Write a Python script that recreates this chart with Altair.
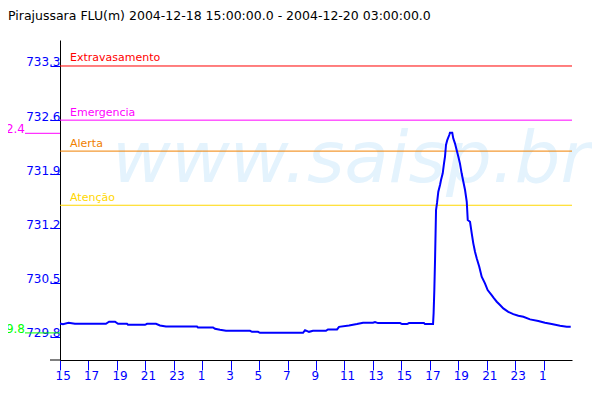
import altair as alt
import pandas as pd

title_text = "Pirajussara FLU(m) 2004-12-18 15:00:00.0 - 2004-12-20 03:00:00.0"
watermark_text = "www.saisp.br"
start_hour = 15  # 2004-12-18 15:00

# hours since 2004-12-18 15:00
hours = [0, 0.21, 0.60, 1.05, 3.23, 3.45, 3.87, 4.08, 4.71, 4.78,
         5.98, 6.12, 6.75, 7.03, 7.45, 9.63, 9.70, 10.76, 10.90, 11.25,
         11.67, 13.36, 13.50, 13.92, 14.06, 17.09, 17.23, 17.51, 17.79, 18.70,
         18.84, 19.48, 19.62, 20.32, 20.88, 21.31, 22.01, 22.15, 22.36, 23.91,
         24.05, 24.40, 24.54, 25.59, 25.66, 26.23, 26.27, 26.32, 26.37, 26.44,
         26.51, 26.60, 26.72, 26.79, 26.91, 27.00, 27.07, 27.14, 27.23, 27.37,
         27.42, 27.58, 27.65, 27.77, 27.89, 28.01, 28.12, 28.24, 28.36, 28.48,
         28.60, 28.67, 28.83, 28.95, 29.06, 29.18, 29.30, 29.48, 29.65, 29.88,
         30.07, 30.35, 30.52, 30.71, 30.94, 31.17, 31.52, 31.87, 32.23, 32.58,
         33.05, 33.63, 34.10, 34.57, 35.16, 35.63, 35.91]
levels = [729.973, 729.964, 729.981, 729.968, 729.968, 729.994, 729.994, 729.968, 729.968, 729.955,
          729.955, 729.968, 729.968, 729.947, 729.934, 729.934, 729.921, 729.921, 729.903, 729.890,
          729.877, 729.877, 729.864, 729.864, 729.851, 729.851, 729.886, 729.864, 729.877, 729.877,
          729.895, 729.895, 729.929, 729.947, 729.964, 729.981, 729.981, 729.990, 729.977, 729.977,
          729.964, 729.964, 729.977, 729.977, 729.964, 729.964, 730.106, 730.404, 730.792, 731.438,
          731.530, 731.675, 731.761, 731.826, 731.913, 732.042, 732.127, 732.279, 732.343, 732.408,
          732.438, 732.438, 732.365, 732.300, 732.214, 732.127, 732.042, 731.913, 731.804, 731.697,
          731.545, 731.309, 731.287, 731.137, 731.008, 730.899, 730.814, 730.705, 730.576, 730.490,
          730.404, 730.339, 730.297, 730.253, 730.210, 730.167, 730.123, 730.093, 730.071, 730.058,
          730.025, 730.003, 729.981, 729.964, 729.942, 729.929, 729.929]
assert len(hours) == len(levels)

threshold_names = ["Extravasamento", "Emergencia", "Alerta", "Atenção"]
threshold_levels = [733.3, 732.6, 732.2, 731.5]
threshold_colors = ["#ff0000", "#ff00ff", "#f08000", "#ffd700"]

extreme_labels = ["732.4", "729.8"]
extreme_levels = [732.43, 729.85]
extreme_colors = ["#ff00ff", "#00ff00"]

y_ticks = [729.8, 730.5, 731.2, 731.9, 732.6, 733.3]
x_ticks = [0, 2, 4, 6, 8, 10, 12, 14, 16, 18, 20, 22, 24, 26, 28, 30, 32, 34]

FONT = "DejaVu Sans"
BLUE = "#0000ff"

df = pd.DataFrame({"h": hours, "v": levels})
thr = pd.DataFrame({"name": threshold_names, "v": threshold_levels, "c": threshold_colors})
ext = pd.DataFrame({"label": extreme_labels, "v": extreme_levels, "c": extreme_colors})
wm = pd.DataFrame({"t": [watermark_text]})
tt = pd.DataFrame({"t": [title_text]})

xscale = alt.Scale(domain=[0, 36], nice=False, zero=False)
yscale = alt.Scale(domain=[729.5, 733.636], nice=False, zero=False)

xaxis = alt.Axis(values=x_ticks, labelExpr=f"'' + ((datum.value + {start_hour}) % 24)",
                 domainColor="black", tickColor=BLUE, tickSize=10,
                 labelColor=BLUE, labelFont=FONT, labelFontSize=12,
                 labelAlign="left", labelOffset=-5, labelPadding=0, labelBaseline="top",
                 grid=False, title="", labelFlush=False, labelOverlap=False)
yaxis = alt.Axis(values=y_ticks, format=".1f",
                 domainColor="black", tickColor=BLUE, tickSize=10,
                 labelColor=BLUE, labelFont=FONT, labelFontSize=12,
                 labelAlign="right", labelBaseline="alphabetic", labelPadding=-10,
                 grid=False, title="", labelFlush=False, labelOverlap=False)

watermark = alt.Chart(wm).mark_text(
    align="left", baseline="alphabetic", font=FONT, fontSize=72, fontStyle="italic",
    color="#e4f3fd"
).encode(x=alt.value(52), y=alt.value(142), text="t:N")

line = alt.Chart(df).mark_line(color=BLUE, strokeWidth=2).encode(
    x=alt.X("h:Q", scale=xscale, axis=xaxis),
    y=alt.Y("v:Q", scale=yscale, axis=yaxis),
)

thr_rules = alt.Chart(thr).mark_rule(strokeWidth=1).encode(
    y=alt.Y("v:Q", scale=yscale),
    color=alt.Color("c:N", scale=None),
)
thr_text = alt.Chart(thr).mark_text(
    align="left", baseline="alphabetic", dy=-4.5, font=FONT, fontSize=11
).encode(
    x=alt.value(10),
    y=alt.Y("v:Q", scale=yscale),
    text="name:N",
    color=alt.Color("c:N", scale=None),
)

ext_rules = alt.Chart(ext).mark_rule(strokeWidth=1).encode(
    x=alt.value(-35), x2=alt.value(0),
    y=alt.Y("v:Q", scale=yscale),
    color=alt.Color("c:N", scale=None),
)
ext_text = alt.Chart(ext).mark_text(
    align="right", baseline="alphabetic", font=FONT, fontSize=12
).encode(
    x=alt.value(-35),
    y=alt.Y("v:Q", scale=yscale),
    text="label:N",
    color=alt.Color("c:N", scale=None),
)

axis_ext = alt.Chart(tt).mark_rule(color="black", strokeWidth=1).encode(
    x=alt.value(-10), x2=alt.value(0), y=alt.value(320)
)

title = alt.Chart(tt).mark_text(
    align="left", baseline="alphabetic", font=FONT, fontSize=12.5, color="black"
).encode(x=alt.value(-52), y=alt.value(-20), text="t:N")

chart = alt.layer(
    watermark, thr_rules, thr_text, ext_rules, ext_text, line, axis_ext, title
).properties(
    width=512, height=320,
    padding={"left": 52, "top": 32, "right": 20, "bottom": 32},
    autosize="none",
    background="white",
).configure_view(strokeWidth=0)

chart.save("out.html", embed_options={"renderer": "svg", "actions": False})
